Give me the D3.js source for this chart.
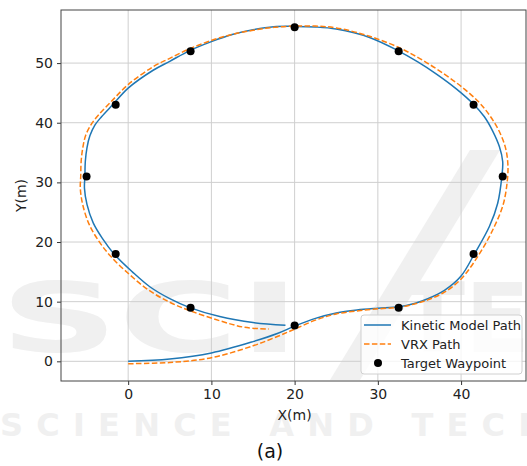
<!DOCTYPE html>
<html>
<head>
<meta charset="utf-8">
<script src="https://cdn.jsdelivr.net/npm/d3@7"></script>
<style>
  body { margin: 0; background: #fff; }
  text { font-family: "DejaVu Sans", sans-serif; }
</style>
</head>
<body>
<svg id="chart"></svg>
<script>
// waypoints the boat has to pass
var waypointX = [20, 32.5, 41.5, 45, 41.5, 32.5, 20, 7.5, -1.5, -5, -1.5, 7.5];
var waypointY = [6, 9, 18, 31, 43, 52, 56, 52, 43, 31, 18, 9];

// kinetic model path
var kineticX = [0, 5, 10, 15, 18, 20, 22.5, 25, 27.5, 30, 32.5, 34.5, 36, 38, 40, 41.6, 43.4, 44.4, 44.9, 45, 44.6, 43.8, 42.8, 41.5, 39.5, 37, 34.8, 32.4, 29, 25, 22.5, 20, 17.5, 15, 12.5, 10, 7.4, 5, 3, 0, -1.8, -3.2, -4.0, -4.6, -4.95, -5.15, -5.2, -5.25, -4.95, -4.2, -3.1, -1.7, 0.5, 2.6, 5, 7.4, 11, 15, 18.9];
var kineticY = [0, 0.4, 1.4, 3.3, 4.7, 5.9, 7.2, 8.1, 8.6, 8.9, 9.15, 9.75, 10.5, 11.9, 14.3, 18, 22.6, 26.5, 31, 33.5, 36, 38.6, 41, 43.1, 45.6, 48.2, 50.2, 52.1, 54.3, 55.7, 56.05, 56.15, 56.1, 55.6, 54.8, 53.6, 52.1, 50.3, 48.8, 45.8, 43.1, 41.0, 39.6, 37.8, 35.8, 33.5, 31, 29, 26.3, 23.2, 20.6, 18, 15, 12.5, 10.5, 9, 7.5, 6.5, 6.05];

// VRX simulator path
var vrxX = [0, 5, 10, 15, 18, 20, 22.5, 25, 27.5, 30, 32.5, 34.5, 36, 38, 40, 42.2, 44, 45.1, 45.6, 45.6, 45.3, 44.5, 43.4, 42.1, 40, 37.4, 35.1, 32.7, 29, 25, 22.5, 20, 17.5, 15, 12.5, 10, 7.4, 5, 3, 0, -2, -3.5, -4.4, -5.1, -5.45, -5.65, -5.7, -5.75, -5.45, -4.7, -3.6, -2.1, 0.2, 2.5, 5, 7.4, 11, 14, 16.9];
var vrxY = [-0.4, -0.2, 0.6, 2.6, 4.2, 5.4, 6.9, 7.95, 8.45, 8.8, 9.05, 9.65, 10.3, 11.6, 13.8, 18, 22.6, 26.5, 31, 33.5, 36, 38.8, 41.3, 43.5, 46.1, 48.7, 50.7, 52.5, 54.5, 55.9, 56.2, 56.2, 56, 55.5, 54.8, 53.8, 52.4, 50.8, 49.4, 46.4, 43.6, 41.4, 39.8, 37.9, 35.8, 33.5, 31, 29, 26.2, 23, 20.3, 17.6, 14.5, 11.9, 9.9, 8.5, 6.8, 5.7, 5.4];

var xTicks = [0, 10, 20, 30, 40];
var yTicks = [0, 10, 20, 30, 40, 50];
var legendLabels = ["Kinetic Model Path", "VRX Path", "Target Waypoint"];

var width = 527, height = 466;
var m = { left: 61, right: 526, top: 10, bottom: 381 };

var svg = d3.select("#chart").attr("width", width).attr("height", height);

// watermark behind everything
var wm = svg.append("g").attr("fill", "#f0f0f0");
wm.append("text")
  .attr("x", 0).attr("y", 352)
  .attr("font-size", 96).attr("font-weight", "bold")
  .attr("textLength", 300).attr("lengthAdjust", "spacingAndGlyphs")
  .text("SCI");
wm.append("path")
  .attr("d", "M330,380 L470,150 L500,150 L360,380 Z");
wm.append("text")
  .attr("x", 400).attr("y", 352)
  .attr("font-size", 96).attr("font-weight", "bold")
  .attr("textLength", 130).attr("lengthAdjust", "spacingAndGlyphs")
  .text("TE");
wm.append("text")
  .attr("x", 0).attr("y", 436)
  .attr("font-size", 32).attr("font-weight", "bold")
  .attr("textLength", 545).attr("lengthAdjust", "spacing")
  .text("SCIENCE AND TECH");

var x = d3.scaleLinear().domain([-8.07, 47.8]).range([m.left, m.right]);
var y = d3.scaleLinear().domain([-3.3, 58.9]).range([m.bottom, m.top]);

// grid
svg.append("g")
  .selectAll("line")
  .data(xTicks)
  .join("line")
  .attr("x1", d => x(d)).attr("x2", d => x(d))
  .attr("y1", m.top).attr("y2", m.bottom)
  .attr("stroke", "#cfcfcf").attr("stroke-width", 1);
svg.append("g")
  .selectAll("line")
  .data(yTicks)
  .join("line")
  .attr("x1", m.left).attr("x2", m.right)
  .attr("y1", d => y(d)).attr("y2", d => y(d))
  .attr("stroke", "#cfcfcf").attr("stroke-width", 1);

// axes
var xAxis = svg.append("g")
  .attr("transform", "translate(0," + m.bottom + ")")
  .call(d3.axisBottom(x).tickValues(xTicks).tickSize(4).tickPadding(4));
var yAxis = svg.append("g")
  .attr("transform", "translate(" + m.left + ",0)")
  .call(d3.axisLeft(y).tickValues(yTicks).tickSize(4).tickPadding(4));
[xAxis, yAxis].forEach(function (a) {
  a.select(".domain").remove();
  a.selectAll("line").attr("stroke", "#333");
  a.selectAll("text").attr("font-size", 14).attr("fill", "#222")
    .attr("font-family", "DejaVu Sans, sans-serif");
});

// frame
svg.append("rect")
  .attr("x", m.left).attr("y", m.top)
  .attr("width", m.right - m.left).attr("height", m.bottom - m.top)
  .attr("fill", "none").attr("stroke", "#444").attr("stroke-width", 1);

var line = d3.line()
  .x(d => x(d[0]))
  .y(d => y(d[1]))
  .curve(d3.curveCatmullRom);

svg.append("path")
  .datum(d3.zip(kineticX, kineticY))
  .attr("fill", "none")
  .attr("stroke", "#1f77b4")
  .attr("stroke-width", 1.5)
  .attr("d", line);

svg.append("path")
  .datum(d3.zip(vrxX, vrxY))
  .attr("fill", "none")
  .attr("stroke", "#ff7f0e")
  .attr("stroke-width", 1.5)
  .attr("stroke-dasharray", "5.5,2.4")
  .attr("d", line);

svg.append("g")
  .selectAll("circle")
  .data(d3.zip(waypointX, waypointY))
  .join("circle")
  .attr("cx", d => x(d[0]))
  .attr("cy", d => y(d[1]))
  .attr("r", 4)
  .attr("fill", "#000");

// axis labels
svg.append("text")
  .attr("x", x(20)).attr("y", 420)
  .attr("text-anchor", "middle").attr("font-size", 14).attr("fill", "#222")
  .text("X(m)");
svg.append("text")
  .attr("transform", "translate(26," + ((m.top + m.bottom) / 2) + ") rotate(-90)")
  .attr("text-anchor", "middle").attr("font-size", 14).attr("fill", "#222")
  .text("Y(m)");

// legend
var lg = svg.append("g");
lg.append("rect")
  .attr("x", 361).attr("y", 315).attr("width", 161).attr("height", 59)
  .attr("rx", 3).attr("fill", "#fff").attr("fill-opacity", 0.8)
  .attr("stroke", "#d0d0d0");
var rowY = [325, 344, 363];
lg.append("line").attr("x1", 364).attr("x2", 391).attr("y1", rowY[0]).attr("y2", rowY[0])
  .attr("stroke", "#1f77b4").attr("stroke-width", 1.5);
lg.append("line").attr("x1", 364).attr("x2", 391).attr("y1", rowY[1]).attr("y2", rowY[1])
  .attr("stroke", "#ff7f0e").attr("stroke-width", 1.5).attr("stroke-dasharray", "5.5,2.4");
lg.append("circle").attr("cx", 378).attr("cy", rowY[2]).attr("r", 4).attr("fill", "#000");
lg.selectAll("text.lab")
  .data(legendLabels)
  .join("text")
  .attr("class", "lab")
  .attr("x", 401)
  .attr("y", (d, i) => rowY[i])
  .attr("dy", "0.35em")
  .attr("font-size", 13)
  .attr("fill", "#222")
  .text(d => d);

// caption
svg.append("text")
  .attr("x", 270).attr("y", 458)
  .attr("text-anchor", "middle")
  .attr("font-family", "Liberation Serif, serif")
  .attr("font-size", 19).attr("fill", "#111")
  .text("(a)");
</script>
</body>
</html>
